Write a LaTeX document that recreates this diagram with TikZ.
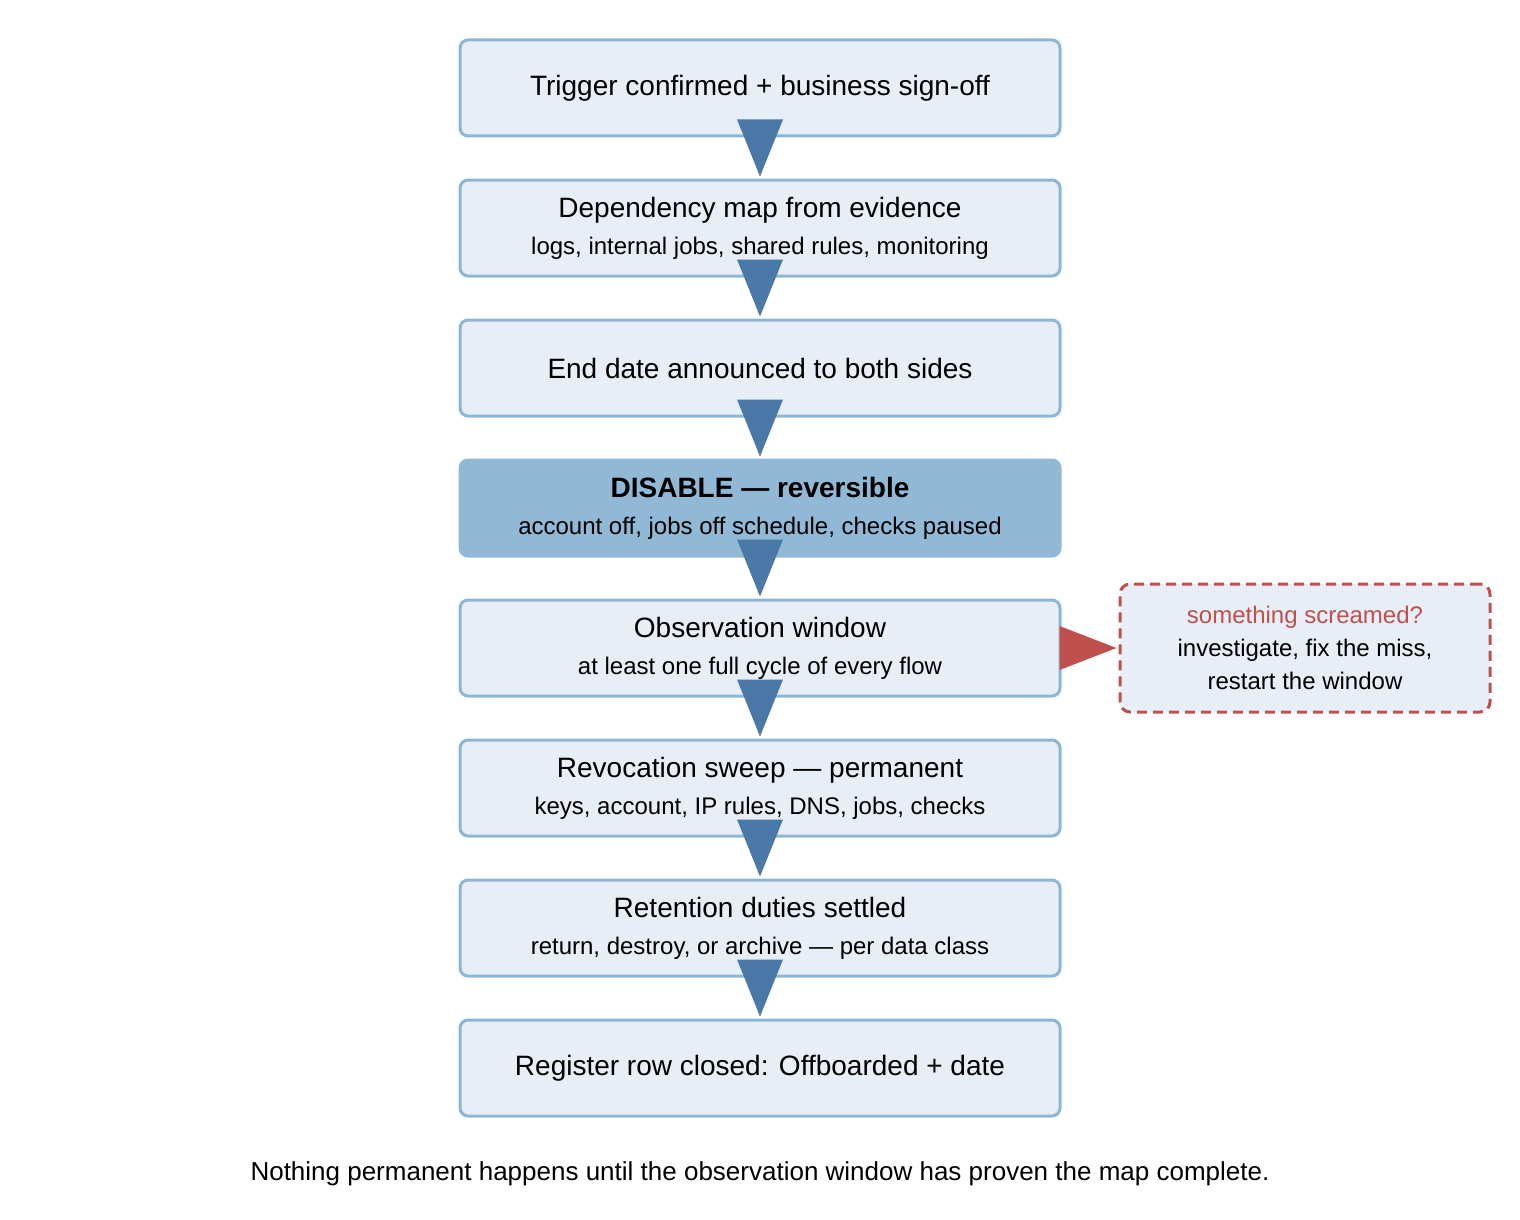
\documentclass[tikz,border=0pt]{standalone}
\usepackage{fontspec}
\setmainfont{Liberation Sans}
\usetikzlibrary{calc}
\definecolor{boxfill}{HTML}{E8EEF5}
\definecolor{boxline}{HTML}{8DB6D5}
\definecolor{disfill}{HTML}{91B9D6}
\definecolor{arr}{HTML}{4A79A8}
\definecolor{redc}{HTML}{C0504D}
\begin{document}
\begin{tikzpicture}[x=0.5pt,y=-0.5pt,
  box/.style={draw=boxline,fill=boxfill,line width=1.5pt,rounded corners=4pt,minimum width=300pt,minimum height=48pt,align=center,font=\fontsize{14}{18.5}\selectfont,inner sep=0pt},
  dis/.style={box,draw=disfill,fill=disfill},
  sub/.style={font=\fontsize{12}{14}\selectfont},
  side/.style={draw=redc,fill=boxfill,line width=1.5pt,dash pattern=on 5pt off 3pt,rounded corners=5pt,minimum width=185pt,minimum height=64pt,align=center,font=\fontsize{12}{16.5}\selectfont,inner sep=0pt}]
\useasboundingbox (0,0) rectangle (1520,1220);
\node[box] (b1) at (760,88) {Trigger confirmed + business sign-off};
\node[box] (b2) at (760,228) {Dependency map from evidence\\{\fontsize{12}{14}\selectfont logs, internal jobs, shared rules, monitoring}};
\node[box] (b3) at (760,368) {End date announced to both sides};
\node[dis] (b4) at (760,508) {\textbf{DISABLE — reversible}\\{\fontsize{12}{14}\selectfont account off, jobs off schedule, checks paused}};
\node[box] (b5) at (760,648) {Observation window\\{\fontsize{12}{14}\selectfont at least one full cycle of every flow}};
\node[box] (b6) at (760,788) {Revocation sweep — permanent\\{\fontsize{12}{14}\selectfont keys, account, IP rules, DNS, jobs, checks}};
\node[box] (b7) at (760,928) {Retention duties settled\\{\fontsize{12}{14}\selectfont return, destroy, or archive — per data class}};
\node[box] (b8) at (760,1068) {Register row closed: Offboarded + date};
\node[side] (s) at (1305,648) {\textcolor{redc}{something screamed?}\\investigate, fix the miss,\\restart the window};
\node[font=\fontsize{13}{15}\selectfont] (cap) at (760,1174) {Nothing permanent happens until the observation window has proven the map complete.};
\foreach \a/\b in {b1/b2,b2/b3,b3/b4,b4/b5,b5/b6,b6/b7,b7/b8}{
  \fill[arr] ($(\a.south)+(-23,-18)$) -- ($(\a.south)+(23,-18)$) -- ($(\b.north)+(0,-2)$) -- cycle;
}
\fill[redc] ($(b5.east)+(-2,-22)$) -- ($(b5.east)+(-2,22)$) -- ($(s.west)+(-2,0)$) -- cycle;
\end{tikzpicture}
\end{document}
